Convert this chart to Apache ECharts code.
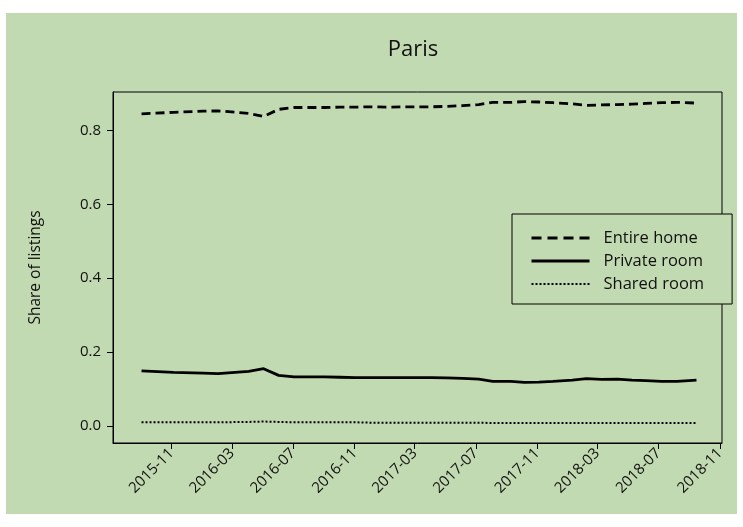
<!DOCTYPE html>
<html>
<head>
<meta charset="utf-8">
<script src="https://cdn.jsdelivr.net/npm/echarts@6/dist/echarts.min.js"></script>
<style>
html,body{margin:0;padding:0;background:#ffffff;}
#chart{width:743px;height:527px;}
</style>
</head>
<body>
<div id="chart"></div>
<script>
const dates = ['2015-09-02','2015-11-05','2016-01-03','2016-02-02','2016-04-03','2016-05-03','2016-06-02','2016-07-03','2016-08-02','2016-09-02','2016-10-03','2016-11-02','2016-12-03','2017-01-03','2017-02-04','2017-03-04','2017-04-04','2017-05-04','2017-06-05','2017-07-07','2017-08-04','2017-09-09','2017-10-06','2017-11-04','2017-12-02','2018-01-10','2018-02-07','2018-03-09','2018-04-10','2018-05-09','2018-06-06','2018-07-07','2018-08-07','2018-09-15'];
const entireHome = [0.845,0.849,0.852,0.853,0.846,0.838,0.857,0.862,0.862,0.862,0.863,0.863,0.864,0.863,0.864,0.864,0.864,0.865,0.867,0.870,0.876,0.876,0.878,0.877,0.875,0.872,0.868,0.869,0.870,0.871,0.873,0.875,0.876,0.874];
const privateRoom = [0.149,0.145,0.143,0.142,0.148,0.155,0.137,0.133,0.133,0.133,0.132,0.131,0.131,0.131,0.131,0.131,0.131,0.130,0.129,0.127,0.121,0.121,0.118,0.119,0.121,0.124,0.128,0.126,0.127,0.124,0.123,0.121,0.121,0.124];
const sharedRoom = [0.010,0.010,0.010,0.010,0.011,0.012,0.011,0.010,0.010,0.010,0.010,0.010,0.009,0.009,0.009,0.009,0.009,0.009,0.009,0.009,0.008,0.008,0.008,0.008,0.008,0.008,0.008,0.008,0.008,0.008,0.008,0.008,0.008,0.008];
const yTicks = [0, 0.2, 0.4, 0.6, 0.8];
const xTickLabels = ['2015-11','2016-03','2016-07','2016-11','2017-03','2017-07','2017-11','2018-03','2018-07','2018-11'];

const FONT = '"Open Sans", "Noto Sans", sans-serif';
const GREEN = '#c2dab1';
function localTime(s){ const p = s.split('-').map(Number); return new Date(p[0], p[1]-1, p[2] || 1).getTime(); }
const xTickValues = xTickLabels.map(s => localTime(s + '-01'));
function fmtMonth(v){ const d = new Date(v); const m = d.getMonth()+1; return d.getFullYear() + '-' + (m < 10 ? '0' + m : m); }

const chart = echarts.init(document.getElementById('chart'), null, {renderer:'canvas'});
const mk = arr => arr.map((v, i) => [localTime(dates[i]), v]);
chart.setOption({
  animation: false,
  backgroundColor: '#ffffff',
  graphic: [{
    type: 'rect', z: -10, silent: true,
    shape: {x: 6, y: 13, width: 731, height: 501},
    style: {fill: GREEN}
  }, {
    type: 'text', silent: true, x: 413, y: 50,
    style: {text: 'Paris', fill: '#111', font: '22px ' + FONT, textAlign: 'center', textVerticalAlign: 'middle'}
  }],
  grid: {
    left: 113, right: 21, top: 92, bottom: 84,
    show: true, borderColor: '#000', borderWidth: 1, backgroundColor: 'transparent'
  },
  legend: {
    orient: 'vertical', left: 512, top: 214,
    padding: [14, 28, 10, 18],
    itemGap: 3, itemWidth: 58, itemHeight: 14,
    borderColor: '#000', borderWidth: 1, borderRadius: 0,
    backgroundColor: GREEN,
    itemStyle: {color: 'rgba(0,0,0,0)', borderColor: 'rgba(0,0,0,0)', borderWidth: 0, opacity: 0},
    textStyle: {fontFamily: FONT, fontSize: 16.5, lineHeight: 20, color: '#111', padding: [0, 0, 0, 9]},
    data: [
      {name: 'Entire home', lineStyle: {width: 3, type: [10, 6], color: '#000'}},
      {name: 'Private room', lineStyle: {width: 3, type: 'solid', color: '#000'}},
      {name: 'Shared room', lineStyle: {width: 2.2, type: [2, 2], color: '#000'}}
    ]
  },
  xAxis: {
    type: 'value',
    min: localTime('2015-07-07'), max: localTime('2018-11-05'),
    splitLine: {show: false},
    axisLine: {show: true, onZero: false, lineStyle: {color: '#000', width: 1}},
    axisTick: {show: true, length: 6, lineStyle: {color: '#000'}, customValues: xTickValues},
    axisLabel: {
      customValues: xTickValues, rotate: 45, margin: 8,
      fontFamily: FONT, fontSize: 15, color: '#111',
      formatter: v => fmtMonth(v)
    }
  },
  yAxis: {
    type: 'value', min: -0.046, max: 0.904,
    name: 'Share of listings', nameLocation: 'middle', nameRotate: 90, nameGap: 69,
    nameTextStyle: {fontFamily: FONT, fontSize: 15.5, color: '#111'},
    splitLine: {show: false},
    axisLine: {show: true, onZero: false, lineStyle: {color: '#000', width: 1}},
    axisTick: {show: true, length: 6, lineStyle: {color: '#000'}, customValues: yTicks},
    axisLabel: {
      customValues: yTicks, margin: 12,
      fontFamily: FONT, fontSize: 15, color: '#111',
      formatter: v => Number(v).toFixed(1)
    }
  },
  series: [
    {name: 'Entire home', type: 'line', symbol: 'none', data: mk(entireHome),
     lineStyle: {color: '#000', width: 2.8, type: [9, 5]}, itemStyle: {color: '#000'}},
    {name: 'Private room', type: 'line', symbol: 'none', data: mk(privateRoom),
     lineStyle: {color: '#000', width: 2.8, type: 'solid'}, itemStyle: {color: '#000'}},
    {name: 'Shared room', type: 'line', symbol: 'none', data: mk(sharedRoom),
     lineStyle: {color: '#000', width: 2, type: [2, 2]}, itemStyle: {color: '#000'}}
  ]
});
</script>
</body>
</html>
